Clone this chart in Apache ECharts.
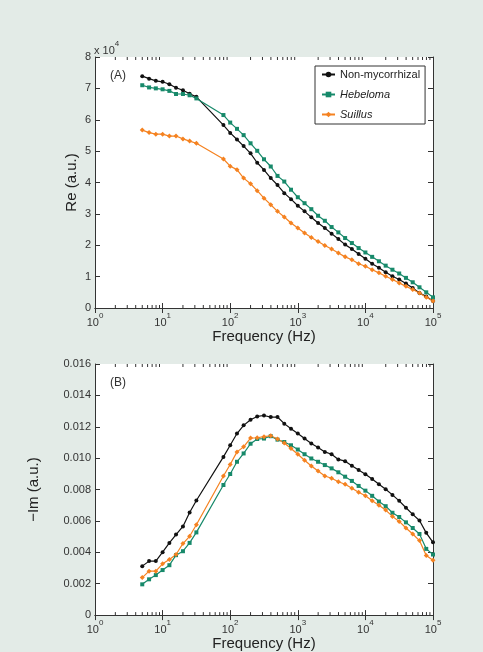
<!DOCTYPE html>
<html>
<head>
<meta charset="utf-8">
<script src="https://cdn.jsdelivr.net/npm/echarts@6/dist/echarts.min.js"></script>
<style>
  html, body { margin: 0; padding: 0; background: #e3ebe7; }
  #chart { width: 483px; height: 652px; }
</style>
</head>
<body>
<div id="chart"></div>
<script>
// frequencies (Hz), shared by both panels
const freq = [5, 6.31, 7.94, 10, 12.6, 15.8, 20, 25.1, 31.6,
  79.4, 100, 126, 158, 200, 251, 316, 398, 501, 631, 794,
  1000, 1259, 1585, 1995, 2512, 3162, 3981, 5012, 6310, 7943,
  10000, 12589, 15849, 19953, 25119, 31623, 39811, 50119, 63096, 79433, 100000];

// panel A: Re (x 10^4)
const reNon = [7.39, 7.31, 7.24, 7.21, 7.13, 7.02, 6.94, 6.83, 6.73,
  5.83, 5.58, 5.37, 5.16, 4.93, 4.63, 4.40, 4.14, 3.92, 3.66, 3.47,
  3.26, 3.08, 2.89, 2.71, 2.55, 2.37, 2.20, 2.02, 1.88, 1.72,
  1.57, 1.41, 1.28, 1.14, 1.01, 0.91, 0.78, 0.64, 0.48, 0.37, 0.22];
const reHeb = [7.10, 7.03, 7.00, 6.97, 6.92, 6.82, 6.82, 6.78, 6.68,
  6.15, 5.91, 5.71, 5.51, 5.25, 5.01, 4.74, 4.51, 4.21, 4.03, 3.77,
  3.53, 3.34, 3.15, 2.94, 2.78, 2.58, 2.41, 2.23, 2.07, 1.91,
  1.77, 1.63, 1.49, 1.35, 1.22, 1.10, 0.96, 0.82, 0.66, 0.50, 0.34];
const reSui = [5.67, 5.59, 5.54, 5.54, 5.48, 5.48, 5.39, 5.32, 5.25,
  4.75, 4.52, 4.41, 4.14, 3.96, 3.74, 3.50, 3.29, 3.08, 2.90, 2.71,
  2.55, 2.39, 2.25, 2.12, 1.99, 1.88, 1.75, 1.63, 1.54, 1.41,
  1.33, 1.22, 1.12, 1.01, 0.91, 0.80, 0.69, 0.59, 0.48, 0.34, 0.22];

// panel B: -Im
const imNon = [0.00312, 0.00344, 0.00344, 0.00401, 0.0046, 0.00513, 0.00565, 0.00654, 0.0073,
  0.01008, 0.01082, 0.01157, 0.01209, 0.01245, 0.01266, 0.01272, 0.01262, 0.01262, 0.0122, 0.01188,
  0.01157, 0.01125, 0.01093, 0.01068, 0.0104, 0.01025, 0.00992, 0.00981, 0.00951, 0.00924,
  0.00897, 0.00867, 0.00834, 0.00802, 0.00766, 0.00728, 0.00684, 0.00642, 0.00603, 0.00524, 0.00464];
const imHeb = [0.00196, 0.00228, 0.00255, 0.00287, 0.00318, 0.00382, 0.00407, 0.0046, 0.00527,
  0.00829, 0.00899, 0.00977, 0.0103, 0.01092, 0.01122, 0.01125, 0.0114, 0.01118, 0.01103, 0.01082,
  0.01055, 0.01025, 0.00998, 0.00977, 0.00956, 0.00935, 0.0091, 0.00882, 0.00855, 0.00823,
  0.00793, 0.0076, 0.00724, 0.00694, 0.00652, 0.00625, 0.00591, 0.00555, 0.00517, 0.00422, 0.00386];
const imSui = [0.00239, 0.0028, 0.0028, 0.00327, 0.00354, 0.00386, 0.00456, 0.00502, 0.00576,
  0.00886, 0.0096, 0.0104, 0.01072, 0.01128, 0.0113, 0.01137, 0.01143, 0.01122, 0.01097, 0.01062,
  0.01025, 0.00987, 0.0095, 0.00918, 0.00886, 0.00872, 0.0085, 0.00834, 0.00808, 0.00783,
  0.0076, 0.00728, 0.007, 0.00669, 0.00629, 0.00597, 0.00555, 0.00517, 0.00475, 0.0038, 0.0035];

const seriesNames = ['Non-mycorrhizal', 'Hebeloma', 'Suillus'];
const colors = ['#111111', '#17896a', '#f58220'];
const symbols = ['circle', 'rect', 'diamond'];

// minor log ticks (2..9 per decade)
const minorTicks = [];
for (let d = 0; d < 5; d++) {
  for (let k = 2; k <= 9; k++) minorTicks.push(k * Math.pow(10, d));
}

const FONT = "'Liberation Sans', Arial, Helvetica, sans-serif";
const AX = '#333';

const chart = echarts.init(document.getElementById('chart'));

function pairs(ys) {
  return freq.map((f, i) => [f, ys[i]]);
}

function xAxes(gridIndex) {
  const base = {
    type: 'log', logBase: 10, min: 1, max: 100000, gridIndex: gridIndex,
    axisLine: { lineStyle: { color: AX, width: 1 } },
    axisTick: { inside: true, length: 5, lineStyle: { color: AX } },
    splitLine: { show: false }
  };
  return [
    Object.assign({}, base, {
      position: 'bottom',
      name: 'Frequency (Hz)', nameLocation: 'middle', nameGap: 7,
      nameTextStyle: { fontSize: 15, color: '#222', fontFamily: FONT, verticalAlign: 'top' },
      axisLabel: {
        margin: 4,
        formatter: function (v) {
          const e = Math.round(Math.log10(v));
          return '{b|10}{s|' + e + '}';
        },
        rich: {
          b: { fontSize: 11, color: '#333', fontFamily: FONT, lineHeight: 16, verticalAlign: 'bottom' },
          s: { fontSize: 8, color: '#333', fontFamily: FONT, lineHeight: 9, verticalAlign: 'top' }
        }
      }
    }),
    Object.assign({}, base, { position: 'top', axisLabel: { show: false } })
  ];
}

function yAxes(gridIndex, max, interval, fmt, name, nameGap) {
  const base = {
    type: 'value', min: 0, max: max, interval: interval, gridIndex: gridIndex,
    axisLine: { show: true, lineStyle: { color: AX, width: 1 } },
    axisTick: { show: true, inside: true, length: 5, lineStyle: { color: AX } },
    splitLine: { show: false }
  };
  return [
    Object.assign({}, base, {
      position: 'left',
      name: name, nameLocation: 'middle', nameGap: nameGap, nameMoveOverlap: false,
      nameTextStyle: { fontSize: 15, color: '#222', fontFamily: FONT },
      axisLabel: { margin: 4, fontSize: 11, color: '#333', fontFamily: FONT, formatter: fmt }
    }),
    Object.assign({}, base, { position: 'right', axisLabel: { show: false } })
  ];
}

function lineSeries(name, idx, ys, axisIdx) {
  return {
    name: name, type: 'line', data: pairs(ys),
    xAxisIndex: axisIdx, yAxisIndex: axisIdx,
    symbol: symbols[idx], symbolSize: idx === 2 ? 5 : 4, showSymbol: true,
    lineStyle: { color: colors[idx], width: 1.2 },
    itemStyle: { color: colors[idx] },
    animation: false, z: 3
  };
}

function minorTickSeries(axisIdx) {
  return {
    type: 'custom', xAxisIndex: axisIdx, yAxisIndex: axisIdx, silent: true,
    data: minorTicks.map(f => [f, 0]),
    renderItem: function (params, api) {
      const x = api.coord([api.value(0), 0])[0];
      const cs = params.coordSys;
      const yb = cs.y + cs.height;
      return {
        type: 'group',
        children: [
          { type: 'line', shape: { x1: x, y1: yb, x2: x, y2: yb - 3 }, style: { stroke: AX, lineWidth: 1 } },
          { type: 'line', shape: { x1: x, y1: cs.y, x2: x, y2: cs.y + 3 }, style: { stroke: AX, lineWidth: 1 } }
        ]
      };
    },
    animation: false, z: 2
  };
}

const option = {
  backgroundColor: '#e3ebe7',
  animation: false,
  grid: [
    { left: 95, top: 57, width: 338, height: 251, show: true, backgroundColor: '#ffffff', borderWidth: 0 },
    { left: 95, top: 364, width: 338, height: 252, show: true, backgroundColor: '#ffffff', borderWidth: 0 }
  ],
  xAxis: xAxes(0).concat(xAxes(1)),
  yAxis: yAxes(0, 8, 1, v => String(v), 'Re (a.u.)', 16)
    .concat(yAxes(1, 0.016, 0.002, v => (v === 0 ? '0' : v.toFixed(3)), '\u2212Im (a.u.)', 54)),
  legend: {
    left: 315, top: 66, orient: 'vertical',
    backgroundColor: '#ffffff', borderColor: '#333', borderWidth: 1,
    padding: [3, 5, 4, 6], itemGap: 9, itemWidth: 13, itemHeight: 7,
    textStyle: { fontSize: 11, color: '#222', fontFamily: FONT },
    data: [
      { name: seriesNames[0] },
      { name: seriesNames[1], textStyle: { fontStyle: 'italic' } },
      { name: seriesNames[2], textStyle: { fontStyle: 'italic' } }
    ]
  },
  graphic: [
    { type: 'text', left: 110, top: 70, style: { text: '(A)', fontSize: 12, fill: '#333', fontFamily: FONT } },
    { type: 'text', left: 110, top: 377, style: { text: '(B)', fontSize: 12, fill: '#333', fontFamily: FONT } },
    {
      type: 'text', left: 94, top: 40,
      style: {
        text: '{b|x 10}{s|4}',
        rich: {
          b: { fontSize: 11, fill: '#333', fontFamily: FONT, lineHeight: 16, verticalAlign: 'bottom' },
          s: { fontSize: 8, fill: '#333', fontFamily: FONT, lineHeight: 9, verticalAlign: 'top' }
        }
      }
    }
  ],
  series: [
    minorTickSeries(0),
    minorTickSeries(2),
    lineSeries(seriesNames[0], 0, reNon, 0),
    lineSeries(seriesNames[1], 1, reHeb, 0),
    lineSeries(seriesNames[2], 2, reSui, 0),
    lineSeries(seriesNames[0], 0, imNon, 2),
    lineSeries(seriesNames[1], 1, imHeb, 2),
    lineSeries(seriesNames[2], 2, imSui, 2)
  ]
};

chart.setOption(option);
</script>
</body>
</html>
